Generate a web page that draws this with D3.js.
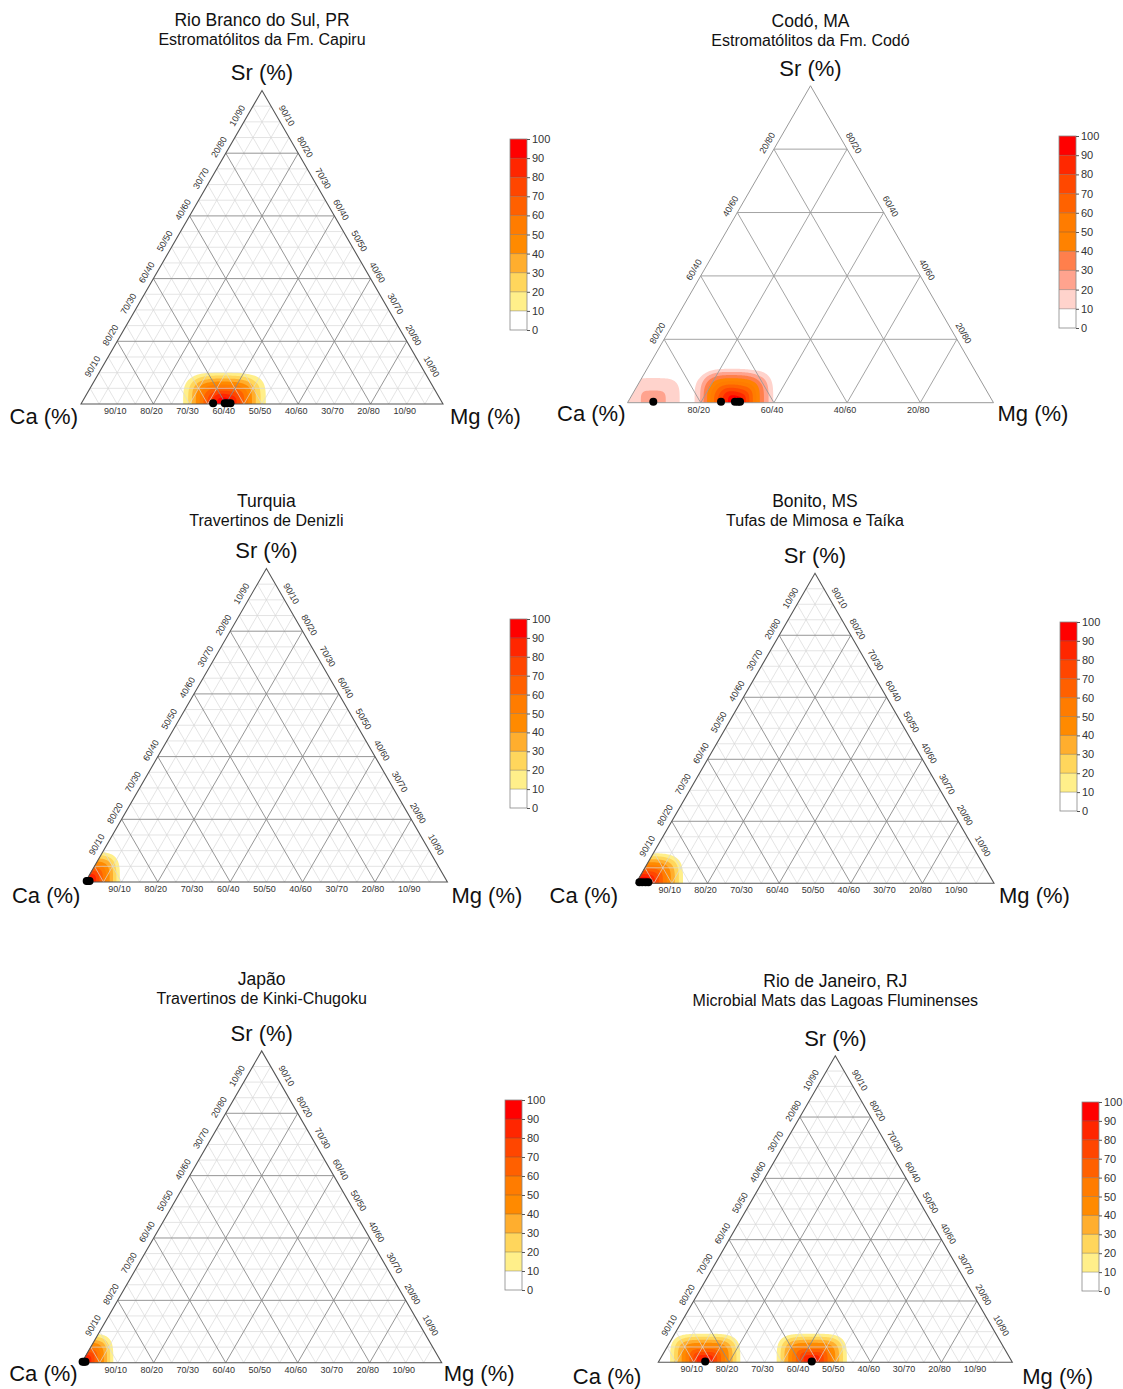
<!DOCTYPE html>
<html><head><meta charset="utf-8">
<script src="https://cdn.jsdelivr.net/npm/d3@7"></script>
<style>body{margin:0;background:#fff}svg{display:block}</style>
</head><body>
<svg id="chart" width="1123" height="1389"></svg>
<script>
// ---------------- DATA ----------------
const panelTitles = ["Rio Branco do Sul, PR","Codó, MA","Turquia","Bonito, MS","Japão","Rio de Janeiro, RJ"];
const panelSubtitles = ["Estromatólitos da Fm. Capiru","Estromatólitos da Fm. Codó","Travertinos de Denizli",
  "Tufas de Mimosa e Taíka","Travertinos de Kinki-Chugoku","Microbial Mats das Lagoas Fluminenses"];
const axisNames = ["Ca (%)","Mg (%)","Sr (%)"];

// sample compositions (%): Ca, Mg, Sr
const rioBrancoCa = [63.4, 60.2, 59.5, 58.6];
const rioBrancoMg = [36.4, 39.6, 40.3, 41.2];
const rioBrancoSr = [0.2, 0.2, 0.2, 0.2];

const codoCa = [92.8, 74.3, 70.5, 69.7, 69.1];
const codoMg = [6.9, 25.4, 29.2, 30.0, 30.6];
const codoSr = [0.3, 0.3, 0.3, 0.3, 0.3];

const turquiaCa = [99.5, 99.1, 98.7];
const turquiaMg = [0.2, 0.6, 1.0];
const turquiaSr = [0.3, 0.3, 0.3];

const bonitoCa = [98.9, 98.1, 97.2, 96.4];
const bonitoMg = [0.8, 1.6, 2.5, 3.3];
const bonitoSr = [0.3, 0.3, 0.3, 0.3];

const japaoCa = [99.6, 99.2, 98.8];
const japaoMg = [0.1, 0.5, 0.9];
const japaoSr = [0.3, 0.3, 0.3];

const rioJaneiroCa = [86.6, 56.5];
const rioJaneiroMg = [13.1, 43.2];
const rioJaneiroSr = [0.3, 0.3];

// kernel window half-widths (% of Mg axis, % of Sr axis)
const rioBrancoBw = [12, 10.8];
const codoBw = [11, 11.4];
const turquiaBw = [9.7, 10.3];
const bonitoBw = [12, 10.4];
const japaoBw = [9, 10];
const rioJaneiroBw = [11, 10];

// density classes (relative density, %)
const densityThresholds = [10, 20, 30, 40, 50, 60, 70, 80, 90];
const colorbarTicks = [0, 10, 20, 30, 40, 50, 60, 70, 80, 90, 100];
const heatColors = ["#FFEF8A","#FFD65C","#FFAE2E","#FF8A00","#FF7C00","#FF6000","#FF4600","#FF2600","#FF0000"];
const codoColors = ["#FFD3CC","#FFA38E","#FF7F4C","#FF8200","#FF7C00","#FF6200","#FF4800","#FF2800","#FF0000"];

// ---------------- LAYOUT ----------------
const layout = [
  {left:81,    base:404,    width:362, titleY:26,  cb:[510,139,330],   caDx:-3,  mgDx:7,  labDy:20},
  {left:627.5, base:402.7,  width:366, titleY:27,  cb:[1059,136,328],  caDx:-2,  mgDx:4,  labDy:18},
  {left:85.4,  base:882,    width:362, titleY:507, cb:[510,619,808],   caDx:-5,  mgDx:4,  labDy:21},
  {left:636,   base:883.3,  width:358, titleY:507, cb:[1060,622,811],  caDx:-18, mgDx:5,  labDy:20},
  {left:81.7,  base:1362.7, width:360, titleY:985, cb:[505,1100,1290], caDx:-4,  mgDx:2,  labDy:18},
  {left:658.3, base:1362.3, width:354, titleY:987, cb:[1082,1102,1291],caDx:-17, mgDx:10, labDy:22}
];

const panels = [
  {ca:rioBrancoCa, mg:rioBrancoMg, sr:rioBrancoSr, bw:rioBrancoBw, colors:heatColors, minor:true},
  {ca:codoCa, mg:codoMg, sr:codoSr, bw:codoBw, colors:codoColors, minor:false},
  {ca:turquiaCa, mg:turquiaMg, sr:turquiaSr, bw:turquiaBw, colors:heatColors, minor:true},
  {ca:bonitoCa, mg:bonitoMg, sr:bonitoSr, bw:bonitoBw, colors:heatColors, minor:true},
  {ca:japaoCa, mg:japaoMg, sr:japaoSr, bw:japaoBw, colors:heatColors, minor:true},
  {ca:rioJaneiroCa, mg:rioJaneiroMg, sr:rioJaneiroSr, bw:rioJaneiroBw, colors:heatColors, minor:true}
];

const FONT = "'Liberation Sans', Arial, Helvetica, sans-serif";
const SQ = Math.sqrt(3) / 2;
const svg = d3.select("#chart");

panels.forEach((P, pi) => {
  const L = layout[pi];
  const H = L.width * SQ;
  const top = L.base - H;
  const x = d3.scaleLinear().domain([0, 1]).range([L.left, L.left + L.width]);
  const y = d3.scaleLinear().domain([0, SQ]).range([L.base, top]);
  const proj = (ca, mg, sr) => {
    const s = ca + mg + sr, m = mg / s, r = sr / s;
    return [x(m + r / 2), y(r * SQ)];
  };
  const g = svg.append("g").attr("font-family", FONT);
  const apex = proj(0, 0, 100), cL = proj(100, 0, 0), cR = proj(0, 100, 0);

  // clip
  const clipId = "clip" + pi;
  svg.append("defs").append("clipPath").attr("id", clipId)
    .append("polygon").attr("points", [cL, cR, apex].map(p => p.join(",")).join(" "));

  // density field: cone kernel on a super-elliptic (L4) window
  const nx = Math.ceil(L.width) + 1, ny = Math.ceil(H) + 1;
  const pts = P.ca.map((c, i) => proj(c, P.mg[i], P.sr[i]));
  const hx = P.bw[0] / 100 * L.width, hy = P.bw[1] / 100 * H;
  const vals = new Float64Array(nx * ny);
  let vmax = 0;
  for (let j = 0; j < ny; j++) {
    const gy = top + j;
    for (let i = 0; i < nx; i++) {
      const gx = L.left + i;
      let s = 0;
      for (const p of pts) {
        const u = (gx - p[0]) / hx, v = (gy - p[1]) / hy;
        const r = Math.pow(u * u * u * u + v * v * v * v, 0.25);
        if (r < 1) s += 1 - r;
      }
      vals[j * nx + i] = s;
      if (s > vmax) vmax = s;
    }
  }
  for (let k = 0; k < vals.length; k++) vals[k] = vals[k] / vmax * 100;
  const contours = d3.contours().size([nx, ny]).thresholds(densityThresholds)(vals);
  const path = d3.geoPath(d3.geoIdentity().translate([L.left - 0.5, top - 0.5]));
  g.append("g").attr("clip-path", `url(#${clipId})`)
    .selectAll("path").data(contours.filter(c => c.coordinates.length)).join("path")
    .attr("d", path)
    .attr("fill", d => P.colors[densityThresholds.indexOf(d.value)]);

  // grid
  const step = P.minor ? 5 : 20;
  const lines = [];
  for (let v = step; v < 100; v += step) {
    const major = v % 20 === 0;
    lines.push({a: proj(100 - v, 0, v), b: proj(0, 100 - v, v), major});
    lines.push({a: proj(100 - v, v, 0), b: proj(0, v, 100 - v), major});
    lines.push({a: proj(v, 100 - v, 0), b: proj(v, 0, 100 - v), major});
  }
  lines.sort((p, q) => p.major - q.major);
  g.append("g").selectAll("line").data(lines).join("line")
    .attr("x1", d => d.a[0]).attr("y1", d => d.a[1])
    .attr("x2", d => d.b[0]).attr("y2", d => d.b[1])
    .attr("stroke", d => d.major ? (P.minor ? "#8a8a8a" : "#9a9a9a") : "#d8d8d8")
    .attr("stroke-width", d => d.major ? 0.9 : 0.7);

  // outline
  g.append("polygon").attr("points", [cL, cR, apex].map(p => p.join(",")).join(" "))
    .attr("fill", "none").attr("stroke", P.minor ? "#555" : "#999").attr("stroke-width", P.minor ? 1.1 : 1);

  // edge labels
  const labStep = P.minor ? 10 : 20;
  const lab = g.append("g").attr("font-size", 9).attr("fill", "#333").attr("text-anchor", "middle");
  for (let v = labStep; v < 100; v += labStep) {
    const [lx, ly] = proj(100 - v, 0, v);
    lab.append("text")
      .attr("transform", `translate(${lx - 0.866 * 9 + 0.5 * 2},${ly - 0.5 * 9 - 0.866 * 2}) rotate(-60)`)
      .attr("dy", "0.35em").text(`${100 - v}/${v}`);
    const [rx, ry] = proj(0, 100 - v, v);
    lab.append("text")
      .attr("transform", `translate(${rx + 0.866 * 9 - 0.5 * 2},${ry - 0.5 * 9 - 0.866 * 2}) rotate(60)`)
      .attr("dy", "0.35em").text(`${v}/${100 - v}`);
    const [bx, by] = proj(100 - v, v, 0);
    lab.append("text").attr("x", bx - 2).attr("y", by + 10).text(`${100 - v}/${v}`);
  }

  // points
  g.append("g").selectAll("circle").data(pts).join("circle")
    .attr("cx", d => d[0]).attr("cy", d => d[1]).attr("r", 4).attr("fill", "#000");

  // axis names
  g.append("text").attr("x", apex[0]).attr("y", apex[1] - 10).attr("text-anchor", "middle")
    .attr("font-size", 22).attr("fill", "#111").text(axisNames[2]);
  g.append("text").attr("x", cL[0] + L.caDx).attr("y", cL[1] + L.labDy).attr("text-anchor", "end")
    .attr("font-size", 22).attr("fill", "#111").text(axisNames[0]);
  g.append("text").attr("x", cR[0] + L.mgDx).attr("y", cR[1] + L.labDy).attr("text-anchor", "start")
    .attr("font-size", 22).attr("fill", "#111").text(axisNames[1]);

  // titles
  g.append("text").attr("x", apex[0]).attr("y", L.titleY).attr("text-anchor", "middle")
    .attr("font-size", 17.5).attr("fill", "#111").text(panelTitles[pi]);
  g.append("text").attr("x", apex[0]).attr("y", L.titleY + 19).attr("text-anchor", "middle")
    .attr("font-size", 16).attr("fill", "#111").text(panelSubtitles[pi]);

  // colorbar
  const [cbx, cbTop, cbBot] = L.cb;
  const cbw = 17;
  const cs = d3.scaleLinear().domain([0, 100]).range([cbBot, cbTop]);
  const cb = g.append("g");
  const bands = colorbarTicks.slice(0, -1);
  cb.selectAll("rect.band").data(bands).join("rect").attr("class", "band")
    .attr("x", cbx).attr("width", cbw)
    .attr("y", d => cs(d + 10)).attr("height", d => cs(d) - cs(d + 10))
    .attr("fill", (d, i) => i === 0 ? "#fff" : P.colors[i - 1]);
  cb.selectAll("line.sep").data(colorbarTicks.slice(1, -1)).join("line").attr("class", "sep")
    .attr("x1", cbx).attr("x2", cbx + cbw).attr("y1", d => cs(d)).attr("y2", d => cs(d))
    .attr("stroke", "#555").attr("stroke-opacity", 0.55).attr("stroke-width", 0.7);
  cb.append("rect").attr("x", cbx).attr("y", cbTop).attr("width", cbw).attr("height", cbBot - cbTop)
    .attr("fill", "none").attr("stroke", "#888").attr("stroke-width", 0.8);
  const ax = cb.append("g").attr("transform", `translate(${cbx + cbw},0)`)
    .call(d3.axisRight(cs).tickValues(colorbarTicks).tickSize(3).tickPadding(2).tickFormat(d3.format("d")));
  ax.select(".domain").remove();
  ax.selectAll(".tick line").attr("stroke", "#555");
  ax.selectAll(".tick text").attr("font-size", 11).attr("font-family", FONT).attr("fill", "#333");
});
</script>
</body></html>
